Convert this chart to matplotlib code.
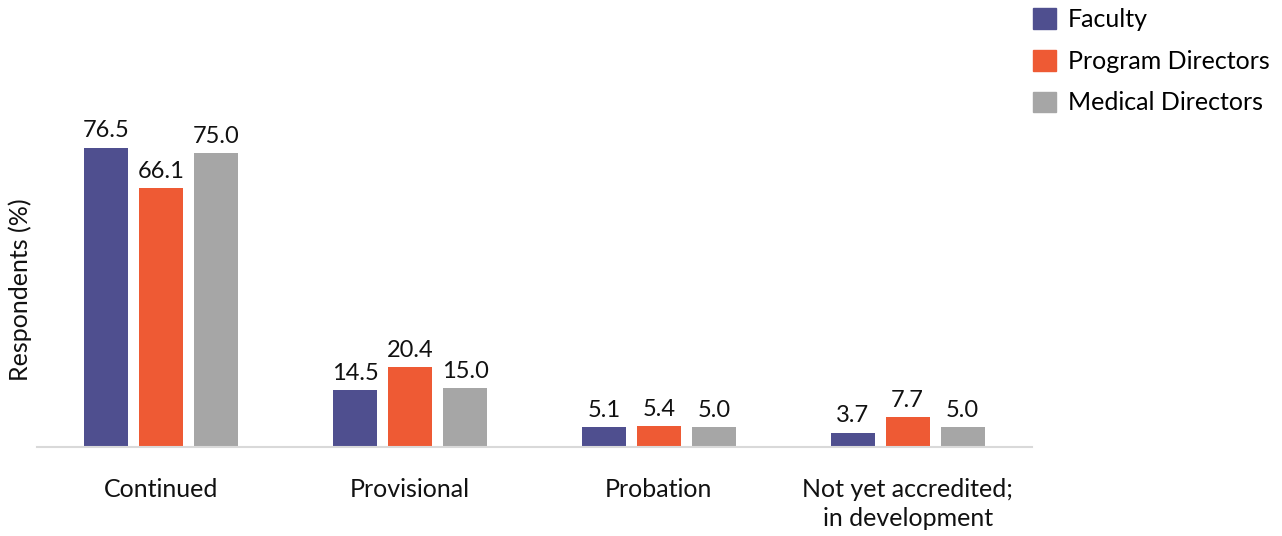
import numpy as np
import matplotlib.pyplot as plt
from matplotlib.patches import Patch

plt.rcParams['font.family'] = ['Lato', 'DejaVu Sans']

categories = ['Continued', 'Provisional', 'Probation', 'Not yet accredited;\nin development']
series_names = ['Faculty', 'Program Directors', 'Medical Directors']
faculty = [76.5, 14.5, 5.1, 3.7]
program_directors = [66.1, 20.4, 5.4, 7.7]
medical_directors = [75.0, 15.0, 5.0, 5.0]
colors = ['#4f4f8f', '#ee5a34', '#a6a6a6']

fig = plt.figure(figsize=(12.82, 5.36), dpi=100)
# axes box in pixels: left 37, right 1032, bottom 447 (from top), top 40
W, H = 1282, 536
ax = fig.add_axes([37 / W, (H - 447) / H, (1032 - 37) / W, (447 - 40) / H])

x = np.arange(len(categories))
width = 0.177
offset = 0.221
for i, (vals, color) in enumerate(zip([faculty, program_directors, medical_directors], colors)):
    bars = ax.bar(x + (i - 1) * offset, vals, width, color=color)
    for b, v in zip(bars, vals):
        ax.text(b.get_x() + b.get_width() / 2, v + 1.6, f'{v:.1f}',
                ha='center', va='bottom', fontsize=17, color='#111111')

ax.set_xlim(-0.5, 3.5)
ax.set_ylim(0, 104)
for s in ['top', 'right', 'left']:
    ax.spines[s].set_visible(False)
ax.spines['bottom'].set_color('#d9d9d9')
ax.spines['bottom'].set_linewidth(1.5)
ax.set_yticks([])
ax.set_xticks(x)
ax.set_xticklabels(categories, fontsize=18, color='#111111', linespacing=1.35)
ax.tick_params(axis='x', length=0, pad=22)

fig.text(20 / W, 1 - 290 / H, 'Respondents (%)', rotation=90, ha='center', va='center',
         fontsize=18, color='#111111')

handles = [Patch(color=c) for c in colors]
fig.legend(handles, series_names, loc='upper left', bbox_to_anchor=(1023 / W, 1 + 2 / H),
           frameon=False, fontsize=18, handlelength=0.9, handleheight=0.9,
           handletextpad=0.5, labelspacing=0.75, borderaxespad=0)

fig.savefig('out.png', dpi=100)
